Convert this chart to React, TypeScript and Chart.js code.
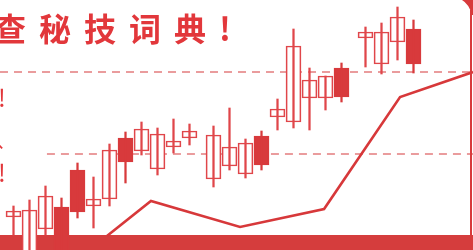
import React, { useEffect, useRef } from "react";
import { Chart, registerables } from "chart.js";

Chart.register(...registerables);

// Candle slots (trading-day positions, with two small gaps)
const slots = [0, 1, 2, 3, 4, 5, 6, 7, 8, 9, 10, 11, 12.5, 13.5, 14.5, 15.5, 16.5, 17.5, 18.5, 19.5, 20.5, 22, 23, 24, 25];
const opens = [33, -2, 21, 43, 80, 44, 51, 112, 99, 81, 103, 112, 71, 84, 76, 114, 133, 128, 152, 152, 182, 212, 186, 208, 221];
const closes = [39, 40, 54, -2, 38, 51, 100, 88, 121, 116, 109, 119, 115, 103, 107, 85, 141, 204, 170, 174, 153, 218, 218, 233, 186];
const highs = [44, 50, 64, 52, 87, 73, 106, 118, 128, 122, 131, 126, 124, 142, 111, 119, 151, 221, 182, 174, 187, 223, 227, 243, 230];
const lows = [15, -2, 15, -2, 32, 22, 44, 67, 95, 75, 97, 105, 63, 80, 72, 80, 120, 122, 120, 140, 148, 183, 176, 190, 177];

// Moving average line
const maX = [5.84, 8.59, 14.16, 19.41, 24.16, 28.72];
const maY = [14, 49, 23, 41, 153, 178];

// Reference levels (dashed)
const levelHigh = 178;
const levelLow = 96;
const bandTop = 15;

const TITLE = "查秘技词典!";

const RED = "#d83a3c";
const RED_LINE = "#e0464a";

export default function App() {
  const ref = useRef<HTMLCanvasElement | null>(null);

  useEffect(() => {
    if (!ref.current) return;
    const xMin = -13.5 / 16;
    const xMax = (473 - 13.5) / 16;
    const bodies = slots.map((x, i) => ({ x, y: [Math.min(opens[i], closes[i]), Math.max(opens[i], closes[i])] }));
    const wicks = slots.map((x, i) => ({ x, y: [lows[i], highs[i]] }));
    const filled = slots.map((_, i) => closes[i] < opens[i]);

    const decor = {
      id: "decor",
      beforeDatasetsDraw(chart: any) {
        const { ctx, chartArea, scales } = chart;
        const yb = scales.y.getPixelForValue(bandTop);
        ctx.save();
        ctx.fillStyle = "#d53d3d";
        ctx.fillRect(chartArea.left, yb, chartArea.right - chartArea.left, chartArea.bottom - yb);
        ctx.restore();
      },
      afterDatasetsDraw(chart: any) {
        const { ctx, chartArea } = chart;
        ctx.save();
        ctx.strokeStyle = "#d83a3c";
        ctx.lineWidth = 2;
        ctx.beginPath();
        ctx.moveTo(chartArea.right - 2, 10);
        ctx.lineTo(chartArea.right - 2, chartArea.bottom);
        ctx.stroke();
        ctx.fillStyle = "#d83a3c";
        ctx.beginPath();
        ctx.moveTo(chartArea.right - 11, 0);
        ctx.quadraticCurveTo(chartArea.right - 4, 4, chartArea.right - 1, 15);
        ctx.lineTo(chartArea.right, 15);
        ctx.lineTo(chartArea.right, 0);
        ctx.closePath();
        ctx.fill();
        ctx.restore();
      },
    };

    const chart = new Chart(ref.current, {
      type: "bar",
      data: {
        datasets: [
          {
            type: "bar",
            data: wicks as any,
            backgroundColor: slots.map((_, i) => (filled[i] ? RED : RED_LINE)),
            borderWidth: 0,
            barThickness: 1.6,
            grouped: false,
            order: 0,
          } as any,
          {
            type: "bar",
            data: bodies as any,
            backgroundColor: slots.map((_, i) => (filled[i] ? RED : "#ffffff")),
            borderColor: slots.map((_, i) => (filled[i] ? RED : RED_LINE)),
            borderWidth: 1.7,
            borderSkipped: false,
            barThickness: 15,
            grouped: false,
            order: 1,
          } as any,
          {
            type: "line",
            data: maX.map((x, i) => ({ x, y: maY[i] })),
            borderColor: "#d7383a",
            borderWidth: 2.6,
            pointRadius: 0,
            tension: 0,
            order: 2,
          } as any,
          {
            type: "line",
            data: [{ x: xMin, y: levelHigh }, { x: xMax, y: levelHigh }],
            borderColor: "#e47c7e",
            borderWidth: 1.5,
            borderDash: [8, 6],
            pointRadius: 0,
            order: 3,
          } as any,
          {
            type: "line",
            data: [{ x: 2.09, y: levelLow }, { x: xMax, y: levelLow }],
            borderColor: "#e47c7e",
            borderWidth: 1.5,
            borderDash: [8, 6],
            pointRadius: 0,
            order: 4,
          } as any,
        ],
      },
      options: {
        animation: false,
        responsive: false,
        devicePixelRatio: 1,
        layout: { padding: 0 },
        plugins: { legend: { display: false }, tooltip: { enabled: false }, title: { display: false } },
        scales: {
          x: { type: "linear", min: xMin, max: xMax, offset: false, display: false },
          y: { type: "linear", min: 0, max: 250, display: false },
        },
      },
      plugins: [decor],
    });
    return () => chart.destroy();
  }, []);

  return (
    <div style={{ position: "fixed", left: 0, top: 0, width: 473, height: 250, background: "#fff", overflow: "hidden" }}>
      <canvas ref={ref} width={473} height={250} style={{ position: "absolute", left: 0, top: 0 }} />
      <div
        style={{
          position: "absolute",
          left: -6,
          top: 8,
          fontFamily: '"Noto Sans CJK SC", sans-serif',
          fontWeight: 700,
          fontSize: 32,
          lineHeight: "38px",
          letterSpacing: 13,
          color: "#e2373b",
          whiteSpace: "nowrap",
        }}
      >
        {TITLE}
      </div>
      <div style={{ position: "absolute", left: -2, top: 82, fontFamily: '"Noto Sans CJK SC", sans-serif', fontSize: 24, lineHeight: "30px", color: "#e2373b" }}>!</div>
      <div style={{ position: "absolute", left: -4, top: 128, fontFamily: '"Noto Sans CJK SC", sans-serif', fontSize: 20, lineHeight: "24px", color: "#e2373b" }}>、</div>
      <div style={{ position: "absolute", left: -2, top: 157, fontFamily: '"Noto Sans CJK SC", sans-serif', fontSize: 24, lineHeight: "30px", color: "#e2373b" }}>!</div>
    </div>
  );
}
